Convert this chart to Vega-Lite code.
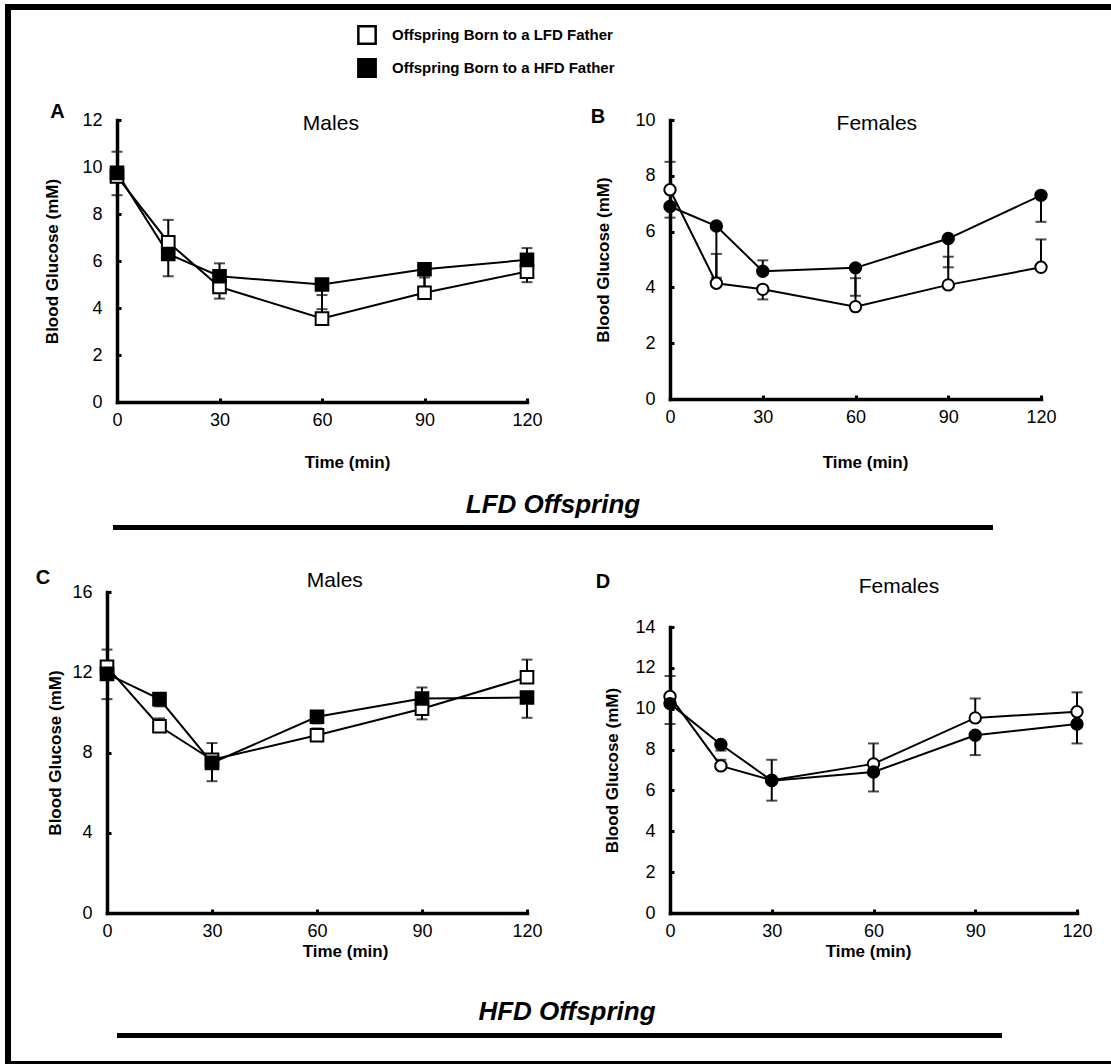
{
  "$schema": "https://vega.github.io/schema/vega-lite/v6.json",
  "width": 1103,
  "height": 1057,
  "autosize": {"type": "none"},
  "padding": {"left": 8, "top": 7, "right": 0, "bottom": 0},
  "background": "white",
  "view": {"stroke": "black", "strokeWidth": 6, "strokeDash": [1103, 1057, 2160]},
  "config": {
    "font": "Liberation Sans",
    "axis": {
      "domainColor": "black", "domainWidth": 3.5, "domainCap": "square",
      "tickColor": "black", "tickWidth": 3, "tickSize": -4,
      "labelFont": "Liberation Sans", "labelFontSize": 18, "labelColor": "black",
      "labelFlush": false, "labelOverlap": false,
      "titleFont": "Liberation Sans", "titleFontSize": 17, "titleFontWeight": "bold", "titleColor": "black",
      "titleBaseline": "middle", "grid": false
    },
    "axisX": {"labelPadding": 13},
    "axisY": {"labelPadding": 19}
  },
  "datasets": {
    "g": [
      {"panel": "A", "father": "LFD", "t": 0, "mean": 9.6, "err": 8.8},
      {"panel": "A", "father": "LFD", "t": 15, "mean": 6.8, "err": 7.75},
      {"panel": "A", "father": "LFD", "t": 30, "mean": 4.9, "err": 4.4},
      {"panel": "A", "father": "LFD", "t": 60, "mean": 3.55, "err": 4.55},
      {"panel": "A", "father": "LFD", "t": 90, "mean": 4.65, "err": 5.3},
      {"panel": "A", "father": "LFD", "t": 120, "mean": 5.55, "err": 5.1},
      {"panel": "A", "father": "HFD", "t": 0, "mean": 9.75, "err": 10.65},
      {"panel": "A", "father": "HFD", "t": 15, "mean": 6.3, "err": 5.35},
      {"panel": "A", "father": "HFD", "t": 30, "mean": 5.35, "err": 5.9},
      {"panel": "A", "father": "HFD", "t": 60, "mean": 5.0, "err": 3.95},
      {"panel": "A", "father": "HFD", "t": 90, "mean": 5.65, "err": 4.9},
      {"panel": "A", "father": "HFD", "t": 120, "mean": 6.05, "err": 6.55},
      {"panel": "B", "father": "LFD", "t": 0, "mean": 7.5, "err": 8.5},
      {"panel": "B", "father": "LFD", "t": 15, "mean": 4.15, "err": 5.2},
      {"panel": "B", "father": "LFD", "t": 30, "mean": 3.93, "err": 3.57},
      {"panel": "B", "father": "LFD", "t": 60, "mean": 3.31, "err": 4.33},
      {"panel": "B", "father": "LFD", "t": 90, "mean": 4.09, "err": 5.1},
      {"panel": "B", "father": "LFD", "t": 120, "mean": 4.72, "err": 5.72},
      {"panel": "B", "father": "HFD", "t": 0, "mean": 6.9, "err": 6.5},
      {"panel": "B", "father": "HFD", "t": 15, "mean": 6.2, "err": 4.35},
      {"panel": "B", "father": "HFD", "t": 30, "mean": 4.58, "err": 4.97},
      {"panel": "B", "father": "HFD", "t": 60, "mean": 4.7, "err": 3.7},
      {"panel": "B", "father": "HFD", "t": 90, "mean": 5.75, "err": 4.72},
      {"panel": "B", "father": "HFD", "t": 120, "mean": 7.3, "err": 6.35},
      {"panel": "C", "father": "LFD", "t": 0, "mean": 12.27, "err": 13.13},
      {"panel": "C", "father": "LFD", "t": 15, "mean": 9.31, "err": 9.7},
      {"panel": "C", "father": "LFD", "t": 30, "mean": 7.64, "err": 8.47},
      {"panel": "C", "father": "LFD", "t": 60, "mean": 8.86, "err": 9.2},
      {"panel": "C", "father": "LFD", "t": 90, "mean": 10.18, "err": 9.65},
      {"panel": "C", "father": "LFD", "t": 120, "mean": 11.75, "err": 12.63},
      {"panel": "C", "father": "HFD", "t": 0, "mean": 11.92, "err": 10.66},
      {"panel": "C", "father": "HFD", "t": 15, "mean": 10.66, "err": 10.3},
      {"panel": "C", "father": "HFD", "t": 30, "mean": 7.48, "err": 6.57},
      {"panel": "C", "father": "HFD", "t": 60, "mean": 9.78, "err": 9.45},
      {"panel": "C", "father": "HFD", "t": 90, "mean": 10.69, "err": 11.24},
      {"panel": "C", "father": "HFD", "t": 120, "mean": 10.74, "err": 9.73},
      {"panel": "D", "father": "LFD", "t": 0, "mean": 10.6, "err": 11.6},
      {"panel": "D", "father": "LFD", "t": 15, "mean": 7.2, "err": 7.5},
      {"panel": "D", "father": "LFD", "t": 30, "mean": 6.5, "err": 7.5},
      {"panel": "D", "father": "LFD", "t": 60, "mean": 7.3, "err": 8.3},
      {"panel": "D", "father": "LFD", "t": 90, "mean": 9.55, "err": 10.5},
      {"panel": "D", "father": "LFD", "t": 120, "mean": 9.85, "err": 10.8},
      {"panel": "D", "father": "HFD", "t": 0, "mean": 10.25, "err": 9.25},
      {"panel": "D", "father": "HFD", "t": 15, "mean": 8.25, "err": 7.95},
      {"panel": "D", "father": "HFD", "t": 30, "mean": 6.48, "err": 5.5},
      {"panel": "D", "father": "HFD", "t": 60, "mean": 6.9, "err": 5.95},
      {"panel": "D", "father": "HFD", "t": 90, "mean": 8.7, "err": 7.73},
      {"panel": "D", "father": "HFD", "t": 120, "mean": 9.25, "err": 8.3}
    ]
  },
  "resolve": {"scale": {"x": "independent", "y": "independent"}, "axis": {"x": "independent", "y": "independent"}},
  "layer": [
    {"data": {"name": "g"}, "transform": [{"filter": "datum.panel === 'A'"}],
     "mark": {"type": "rule", "color": "black", "strokeWidth": 2},
     "encoding": {
       "x": {"field": "t", "type": "quantitative", "scale": {"domain": [0, 120], "range": [109, 519], "nice": false},
             "axis": {"orient": "bottom", "offset": -662, "values": [0, 30, 60, 90, 120], "title": "Time (min)", "titleX": 339, "titleY": 60}},
       "y": {"field": "mean", "type": "quantitative", "scale": {"domain": [0, 12], "range": [395, 113], "nice": false},
             "axis": {"orient": "left", "offset": -109, "values": [0, 2, 4, 6, 8, 10, 12], "title": "Blood Glucose (mM)", "titleX": -65, "titleY": 254}},
       "y2": {"field": "err"}}},
    {"data": {"name": "g"}, "transform": [{"filter": "datum.panel === 'A'"}],
     "mark": {"type": "tick", "orient": "horizontal", "size": 11, "thickness": 2, "color": "black"},
     "encoding": {
       "x": {"field": "t", "type": "quantitative", "scale": {"domain": [0, 120], "range": [109, 519], "nice": false}, "axis": null},
       "y": {"field": "err", "type": "quantitative", "scale": {"domain": [0, 12], "range": [395, 113], "nice": false}, "axis": null}}},
    {"data": {"name": "g"}, "transform": [{"filter": "datum.panel === 'A'"}],
     "mark": {"type": "line", "color": "black", "strokeWidth": 2},
     "encoding": {
       "x": {"field": "t", "type": "quantitative", "scale": {"domain": [0, 120], "range": [109, 519], "nice": false}, "axis": null},
       "y": {"field": "mean", "type": "quantitative", "scale": {"domain": [0, 12], "range": [395, 113], "nice": false}, "axis": null},
       "detail": {"field": "father"}}},
    {"data": {"name": "g"}, "transform": [{"filter": "datum.panel === 'A'"}],
     "mark": {"type": "point", "shape": "square", "size": 160, "filled": true, "stroke": "black", "strokeWidth": 2, "opacity": 1},
     "encoding": {
       "x": {"field": "t", "type": "quantitative", "scale": {"domain": [0, 120], "range": [109, 519], "nice": false}, "axis": null},
       "y": {"field": "mean", "type": "quantitative", "scale": {"domain": [0, 12], "range": [395, 113], "nice": false}, "axis": null},
       "fill": {"field": "father", "type": "nominal", "scale": {"domain": ["LFD", "HFD"], "range": ["white", "black"]},
         "legend": {"orient": "none", "legendX": 349, "legendY": 18, "title": null, "padding": 0,
           "symbolType": "square", "symbolSize": 300, "symbolStrokeColor": "black", "symbolStrokeWidth": 2.5,
           "labelFont": "Liberation Sans", "labelFontSize": 15, "labelFontWeight": "bold", "labelColor": "black",
           "labelOffset": 15, "rowPadding": 5, "labelLimit": 0,
           "labelExpr": "'Offspring Born to a ' + datum.label + ' Father'"}}}},
    {"data": {"values": [{"label": "Males"}]},
     "mark": {"type": "text", "fontSize": 21, "color": "black", "baseline": "middle"},
     "encoding": {
       "x": {"datum": 62.6, "type": "quantitative", "scale": {"domain": [0, 120], "range": [109, 519], "nice": false}, "axis": null},
       "y": {"datum": 11.83, "type": "quantitative", "scale": {"domain": [0, 12], "range": [395, 113], "nice": false}, "axis": null},
       "text": {"field": "label"}}},
    {"data": {"values": [{"label": "A"}]},
     "mark": {"type": "text", "fontSize": 20, "fontWeight": "bold", "color": "black", "baseline": "middle"},
     "encoding": {
       "x": {"datum": -17.4, "type": "quantitative", "scale": {"domain": [0, 120], "range": [109, 519], "nice": false}, "axis": null},
       "y": {"datum": 12.36, "type": "quantitative", "scale": {"domain": [0, 12], "range": [395, 113], "nice": false}, "axis": null},
       "text": {"field": "label"}}},

    {"data": {"name": "g"}, "transform": [{"filter": "datum.panel === 'B'"}],
     "mark": {"type": "rule", "color": "black", "strokeWidth": 2},
     "encoding": {
       "x": {"field": "t", "type": "quantitative", "scale": {"domain": [0, 120], "range": [662, 1033], "nice": false},
             "axis": {"orient": "bottom", "offset": -665, "values": [0, 30, 60, 90, 120], "title": "Time (min)", "titleX": 857, "titleY": 63}},
       "y": {"field": "mean", "type": "quantitative", "scale": {"domain": [0, 10], "range": [392, 113], "nice": false},
             "axis": {"orient": "left", "offset": -662, "values": [0, 2, 4, 6, 8, 10], "title": "Blood Glucose (mM)", "titleX": -67, "titleY": 252.5}},
       "y2": {"field": "err"}}},
    {"data": {"name": "g"}, "transform": [{"filter": "datum.panel === 'B'"}],
     "mark": {"type": "tick", "orient": "horizontal", "size": 11, "thickness": 2, "color": "black"},
     "encoding": {
       "x": {"field": "t", "type": "quantitative", "scale": {"domain": [0, 120], "range": [662, 1033], "nice": false}, "axis": null},
       "y": {"field": "err", "type": "quantitative", "scale": {"domain": [0, 10], "range": [392, 113], "nice": false}, "axis": null}}},
    {"data": {"name": "g"}, "transform": [{"filter": "datum.panel === 'B'"}],
     "mark": {"type": "line", "color": "black", "strokeWidth": 2},
     "encoding": {
       "x": {"field": "t", "type": "quantitative", "scale": {"domain": [0, 120], "range": [662, 1033], "nice": false}, "axis": null},
       "y": {"field": "mean", "type": "quantitative", "scale": {"domain": [0, 10], "range": [392, 113], "nice": false}, "axis": null},
       "detail": {"field": "father"}}},
    {"data": {"name": "g"}, "transform": [{"filter": "datum.panel === 'B'"}],
     "mark": {"type": "point", "shape": "circle", "size": 130, "filled": true, "stroke": "black", "strokeWidth": 2, "opacity": 1},
     "encoding": {
       "x": {"field": "t", "type": "quantitative", "scale": {"domain": [0, 120], "range": [662, 1033], "nice": false}, "axis": null},
       "y": {"field": "mean", "type": "quantitative", "scale": {"domain": [0, 10], "range": [392, 113], "nice": false}, "axis": null},
       "fill": {"field": "father", "type": "nominal", "legend": null}}},
    {"data": {"values": [{"label": "Females"}]},
     "mark": {"type": "text", "fontSize": 21, "color": "black", "baseline": "middle"},
     "encoding": {
       "x": {"datum": 66.9, "type": "quantitative", "scale": {"domain": [0, 120], "range": [662, 1033], "nice": false}, "axis": null},
       "y": {"datum": 9.84, "type": "quantitative", "scale": {"domain": [0, 10], "range": [392, 113], "nice": false}, "axis": null},
       "text": {"field": "label"}}},
    {"data": {"values": [{"label": "B"}]},
     "mark": {"type": "text", "fontSize": 20, "fontWeight": "bold", "color": "black", "baseline": "middle"},
     "encoding": {
       "x": {"datum": -23.3, "type": "quantitative", "scale": {"domain": [0, 120], "range": [662, 1033], "nice": false}, "axis": null},
       "y": {"datum": 10.1, "type": "quantitative", "scale": {"domain": [0, 10], "range": [392, 113], "nice": false}, "axis": null},
       "text": {"field": "label"}}},

    {"data": {"name": "g"}, "transform": [{"filter": "datum.panel === 'C'"}],
     "mark": {"type": "rule", "color": "black", "strokeWidth": 2},
     "encoding": {
       "x": {"field": "t", "type": "quantitative", "scale": {"domain": [0, 120], "range": [99, 519], "nice": false},
             "axis": {"orient": "bottom", "offset": -151, "values": [0, 30, 60, 90, 120], "title": "Time (min)", "titleX": 337, "titleY": 38}},
       "y": {"field": "mean", "type": "quantitative", "scale": {"domain": [0, 16], "range": [906, 585], "nice": false},
             "axis": {"orient": "left", "offset": -99, "values": [0, 4, 8, 12, 16], "title": "Blood Glucose (mM)", "titleX": -52, "titleY": 745.5}},
       "y2": {"field": "err"}}},
    {"data": {"name": "g"}, "transform": [{"filter": "datum.panel === 'C'"}],
     "mark": {"type": "tick", "orient": "horizontal", "size": 11, "thickness": 2, "color": "black"},
     "encoding": {
       "x": {"field": "t", "type": "quantitative", "scale": {"domain": [0, 120], "range": [99, 519], "nice": false}, "axis": null},
       "y": {"field": "err", "type": "quantitative", "scale": {"domain": [0, 16], "range": [906, 585], "nice": false}, "axis": null}}},
    {"data": {"name": "g"}, "transform": [{"filter": "datum.panel === 'C'"}],
     "mark": {"type": "line", "color": "black", "strokeWidth": 2},
     "encoding": {
       "x": {"field": "t", "type": "quantitative", "scale": {"domain": [0, 120], "range": [99, 519], "nice": false}, "axis": null},
       "y": {"field": "mean", "type": "quantitative", "scale": {"domain": [0, 16], "range": [906, 585], "nice": false}, "axis": null},
       "detail": {"field": "father"}}},
    {"data": {"name": "g"}, "transform": [{"filter": "datum.panel === 'C'"}],
     "mark": {"type": "point", "shape": "square", "size": 160, "filled": true, "stroke": "black", "strokeWidth": 2, "opacity": 1},
     "encoding": {
       "x": {"field": "t", "type": "quantitative", "scale": {"domain": [0, 120], "range": [99, 519], "nice": false}, "axis": null},
       "y": {"field": "mean", "type": "quantitative", "scale": {"domain": [0, 16], "range": [906, 585], "nice": false}, "axis": null},
       "fill": {"field": "father", "type": "nominal", "legend": null}}},
    {"data": {"values": [{"label": "Males"}]},
     "mark": {"type": "text", "fontSize": 21, "color": "black", "baseline": "middle"},
     "encoding": {
       "x": {"datum": 65.1, "type": "quantitative", "scale": {"domain": [0, 120], "range": [99, 519], "nice": false}, "axis": null},
       "y": {"datum": 16.55, "type": "quantitative", "scale": {"domain": [0, 16], "range": [906, 585], "nice": false}, "axis": null},
       "text": {"field": "label"}}},
    {"data": {"values": [{"label": "C"}]},
     "mark": {"type": "text", "fontSize": 20, "fontWeight": "bold", "color": "black", "baseline": "middle"},
     "encoding": {
       "x": {"datum": -18.3, "type": "quantitative", "scale": {"domain": [0, 120], "range": [99, 519], "nice": false}, "axis": null},
       "y": {"datum": 16.7, "type": "quantitative", "scale": {"domain": [0, 16], "range": [906, 585], "nice": false}, "axis": null},
       "text": {"field": "label"}}},

    {"data": {"name": "g"}, "transform": [{"filter": "datum.panel === 'D'"}],
     "mark": {"type": "rule", "color": "black", "strokeWidth": 2},
     "encoding": {
       "x": {"field": "t", "type": "quantitative", "scale": {"domain": [0, 120], "range": [662, 1069], "nice": false},
             "axis": {"orient": "bottom", "offset": -151, "values": [0, 30, 60, 90, 120], "title": "Time (min)", "titleX": 860, "titleY": 38}},
       "y": {"field": "mean", "type": "quantitative", "scale": {"domain": [0, 14], "range": [906, 620], "nice": false},
             "axis": {"orient": "left", "offset": -662, "values": [0, 2, 4, 6, 8, 10, 12, 14], "title": "Blood Glucose (mM)", "titleX": -58, "titleY": 763}},
       "y2": {"field": "err"}}},
    {"data": {"name": "g"}, "transform": [{"filter": "datum.panel === 'D'"}],
     "mark": {"type": "tick", "orient": "horizontal", "size": 11, "thickness": 2, "color": "black"},
     "encoding": {
       "x": {"field": "t", "type": "quantitative", "scale": {"domain": [0, 120], "range": [662, 1069], "nice": false}, "axis": null},
       "y": {"field": "err", "type": "quantitative", "scale": {"domain": [0, 14], "range": [906, 620], "nice": false}, "axis": null}}},
    {"data": {"name": "g"}, "transform": [{"filter": "datum.panel === 'D'"}],
     "mark": {"type": "line", "color": "black", "strokeWidth": 2},
     "encoding": {
       "x": {"field": "t", "type": "quantitative", "scale": {"domain": [0, 120], "range": [662, 1069], "nice": false}, "axis": null},
       "y": {"field": "mean", "type": "quantitative", "scale": {"domain": [0, 14], "range": [906, 620], "nice": false}, "axis": null},
       "detail": {"field": "father"}}},
    {"data": {"name": "g"}, "transform": [{"filter": "datum.panel === 'D'"}],
     "mark": {"type": "point", "shape": "circle", "size": 130, "filled": true, "stroke": "black", "strokeWidth": 2, "opacity": 1},
     "encoding": {
       "x": {"field": "t", "type": "quantitative", "scale": {"domain": [0, 120], "range": [662, 1069], "nice": false}, "axis": null},
       "y": {"field": "mean", "type": "quantitative", "scale": {"domain": [0, 14], "range": [906, 620], "nice": false}, "axis": null},
       "fill": {"field": "father", "type": "nominal", "legend": null}}},
    {"data": {"values": [{"label": "Females"}]},
     "mark": {"type": "text", "fontSize": 21, "color": "black", "baseline": "middle"},
     "encoding": {
       "x": {"datum": 67.5, "type": "quantitative", "scale": {"domain": [0, 120], "range": [662, 1069], "nice": false}, "axis": null},
       "y": {"datum": 15.98, "type": "quantitative", "scale": {"domain": [0, 14], "range": [906, 620], "nice": false}, "axis": null},
       "text": {"field": "label"}}},
    {"data": {"values": [{"label": "D"}]},
     "mark": {"type": "text", "fontSize": 20, "fontWeight": "bold", "color": "black", "baseline": "middle"},
     "encoding": {
       "x": {"datum": -19.75, "type": "quantitative", "scale": {"domain": [0, 120], "range": [662, 1069], "nice": false}, "axis": null},
       "y": {"datum": 16.2, "type": "quantitative", "scale": {"domain": [0, 14], "range": [906, 620], "nice": false}, "axis": null},
       "text": {"field": "label"}}},

    {"data": {"values": [{"label": "LFD Offspring"}]},
     "mark": {"type": "rule", "strokeWidth": 5, "color": "black"},
     "encoding": {
       "x": {"datum": 0, "type": "quantitative", "scale": {"domain": [0, 1], "range": [105, 985]}, "axis": null}, "x2": {"datum": 1},
       "y": {"datum": 0, "type": "quantitative", "scale": {"domain": [0, 1], "range": [520.5, 498]}, "axis": null}}},
    {"data": {"values": [{"label": "LFD Offspring"}]},
     "mark": {"type": "text", "fontSize": 26, "fontWeight": "bold", "fontStyle": "italic", "color": "black", "baseline": "middle"},
     "encoding": {
       "x": {"datum": 0.5, "type": "quantitative", "scale": {"domain": [0, 1], "range": [105, 985]}, "axis": null},
       "y": {"datum": 1, "type": "quantitative", "scale": {"domain": [0, 1], "range": [520.5, 498]}, "axis": null},
       "text": {"field": "label"}}},
    {"data": {"values": [{"label": "HFD Offspring"}]},
     "mark": {"type": "rule", "strokeWidth": 5, "color": "black"},
     "encoding": {
       "x": {"datum": 0, "type": "quantitative", "scale": {"domain": [0, 1], "range": [109, 994]}, "axis": null}, "x2": {"datum": 1},
       "y": {"datum": 0, "type": "quantitative", "scale": {"domain": [0, 1], "range": [1028.5, 1005]}, "axis": null}}},
    {"data": {"values": [{"label": "HFD Offspring"}]},
     "mark": {"type": "text", "fontSize": 26, "fontWeight": "bold", "fontStyle": "italic", "color": "black", "baseline": "middle"},
     "encoding": {
       "x": {"datum": 0.5085, "type": "quantitative", "scale": {"domain": [0, 1], "range": [109, 994]}, "axis": null},
       "y": {"datum": 1, "type": "quantitative", "scale": {"domain": [0, 1], "range": [1028.5, 1005]}, "axis": null},
       "text": {"field": "label"}}}
  ]
}
